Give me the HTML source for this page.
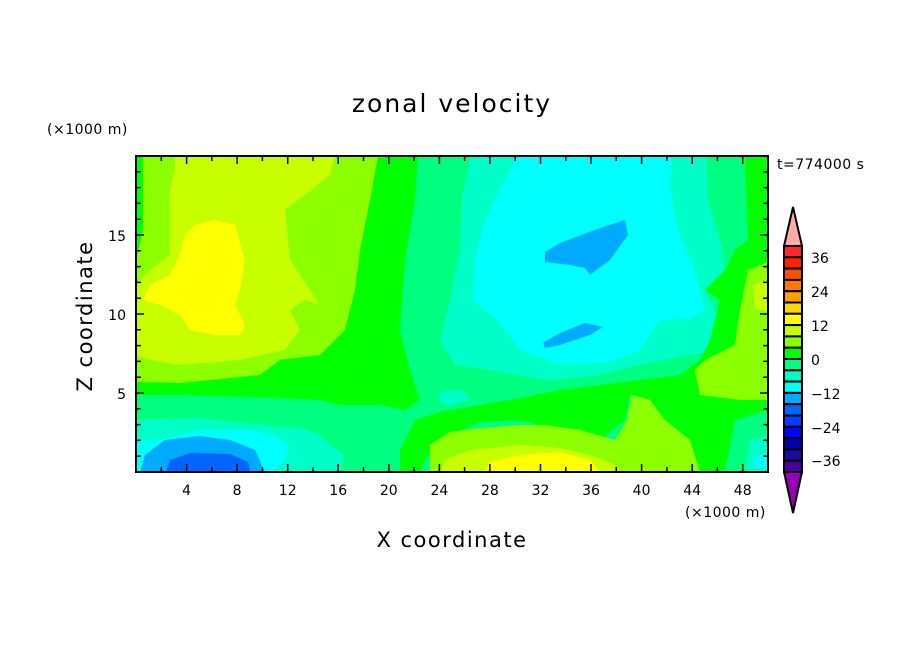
<!DOCTYPE html>
<html><head><meta charset="utf-8"><style>
body{margin:0;background:#fff;}
svg text{font-family:"DejaVu Sans","Liberation Sans",sans-serif;fill:#000;}
</style></head><body>
<svg width="904" height="654" viewBox="0 0 904 654" xmlns="http://www.w3.org/2000/svg">
<rect width="904" height="654" fill="#fff"/>
<clipPath id="c"><rect x="136" y="156" width="632" height="316"/></clipPath>
<g clip-path="url(#c)">
<rect x="136" y="156" width="632" height="316" fill="#00ff80"/>
<polygon fill="#00ff00" points="378,156 418,156 415,200 405,260 400,330 410,370 420,400 405,410 380,405 340,405 320,400 250,397 180,395 136,395 136,156"/>
<polygon fill="#8cff00" points="143,156 378,156 370,200 360,250 355,290 345,330 320,355 280,360 260,375 180,383 136,382 136,260 143,230"/>
<polygon fill="#c8ff00" points="175,156 335,156 330,175 305,195 285,210 290,260 310,290 320,305 305,300 290,310 300,330 285,350 240,360 180,365 150,360 136,355 136,285 150,270 170,255 170,190 175,170"/>
<polygon fill="#ffff00" points="195,225 215,220 235,225 245,260 240,290 235,305 245,325 240,335 215,335 190,330 180,315 160,305 143,300 150,285 170,275 180,255 185,235"/>
<polygon fill="#00ffc8" points="136,420 200,418 260,425 300,428 320,435 330,445 345,455 340,472 136,472"/>
<polygon fill="#00ffff" points="136,440 160,440 200,430 250,430 275,436 290,446 285,460 272,472 136,472"/>
<polygon fill="#00aaff" points="145,455 165,440 200,436 230,440 255,450 265,472 140,472"/>
<polygon fill="#0064ff" points="170,460 190,453 230,454 248,462 250,472 166,472"/>
<polygon fill="#00ffc8" points="470,156 707,156 708,200 720,240 725,270 705,290 720,320 735,330 725,350 690,355 650,362 600,375 550,380 520,375 480,368 455,365 440,340 450,300 460,250 462,200"/>
<polygon fill="#00ffff" points="517,156 672,156 670,190 678,230 695,270 705,310 690,318 660,320 640,350 610,362 560,365 520,350 510,335 495,318 473,300 475,260 485,220 500,190 510,170"/>
<polygon fill="#00aaff" points="545,252 560,243 600,228 625,220 628,235 610,260 590,275 585,268 570,265 545,262"/>
<polygon fill="#00aaff" points="543,343 560,333 585,323 603,327 590,335 560,345 545,348"/>
<polygon fill="#00ffc8" points="440,392 462,390 470,400 450,405 440,402"/>
<polygon fill="#00ff00" points="415,420 440,412 480,405 520,398 560,390 600,385 640,380 680,375 700,360 710,340 720,300 705,290 725,270 735,250 748,240 745,156 768,156 768,440 760,455 745,472 690,472 685,440 660,420 650,400 630,395 625,420 600,440 560,430 520,420 480,422 440,440 425,460 420,472 400,472 400,450"/>
<polygon fill="#8cff00" points="430,445 450,432 480,428 520,425 545,425 580,430 615,440 627,420 632,395 650,400 665,420 690,440 700,472 430,472"/>
<polygon fill="#8cff00" points="748,270 768,262 768,400 740,400 700,395 695,370 705,360 735,345 740,310"/>
<polygon fill="#c8ff00" points="753,285 768,280 768,312 755,308"/>
<polygon fill="#c8ff00" points="445,460 470,450 520,445 560,448 590,455 615,465 620,472 440,472"/>
<polygon fill="#ffff00" points="490,462 520,455 560,452 590,460 600,472 485,472"/>
<polygon fill="#00ff80" points="735,420 768,410 768,472 725,472"/>
<polygon fill="#00ffc8" points="750,440 768,436 768,472 745,472"/>
<polygon fill="#00ffff" points="753,458 768,452 768,468 756,468"/>
</g>
<rect x="136" y="156" width="632" height="316" fill="none" stroke="#000" stroke-width="2"/>
<g stroke="#000" stroke-width="1.5">
<path d="M161.3,472v-5M186.6,472v-8M211.8,472v-5M237.1,472v-8M262.4,472v-5M287.7,472v-8M313,472v-5M338.2,472v-8M363.5,472v-5M388.8,472v-8M414.1,472v-5M439.4,472v-8M464.6,472v-5M489.9,472v-8M515.2,472v-5M540.5,472v-8M565.8,472v-5M591,472v-8M616.3,472v-5M641.6,472v-8M666.9,472v-5M692.2,472v-8M717.4,472v-5M742.7,472v-8"/>
<path d="M161.3,156v5M186.6,156v8M211.8,156v5M237.1,156v8M262.4,156v5M287.7,156v8M313,156v5M338.2,156v8M363.5,156v5M388.8,156v8M414.1,156v5M439.4,156v8M464.6,156v5M489.9,156v8M515.2,156v5M540.5,156v8M565.8,156v5M591,156v8M616.3,156v5M641.6,156v8M666.9,156v5M692.2,156v8M717.4,156v5M742.7,156v8"/>
<path d="M136,456.2h5M136,440.4h5M136,424.6h5M136,408.8h5M136,393h8M136,377.2h5M136,361.4h5M136,345.6h5M136,329.8h5M136,314h8M136,298.2h5M136,282.4h5M136,266.6h5M136,250.8h5M136,235h8M136,219.2h5M136,203.4h5M136,187.6h5M136,171.8h5"/>
<path d="M768,456.2h-5M768,440.4h-5M768,424.6h-5M768,408.8h-5M768,393h-8M768,377.2h-5M768,361.4h-5M768,345.6h-5M768,329.8h-5M768,314h-8M768,298.2h-5M768,282.4h-5M768,266.6h-5M768,250.8h-5M768,235h-8M768,219.2h-5M768,203.4h-5M768,187.6h-5M768,171.8h-5"/>
</g>
<g font-size="14" text-anchor="middle">
<text x="186.6" y="495">4</text><text x="237.1" y="495">8</text><text x="287.7" y="495">12</text><text x="338.2" y="495">16</text><text x="388.8" y="495">20</text><text x="439.4" y="495">24</text><text x="489.9" y="495">28</text><text x="540.5" y="495">32</text><text x="591" y="495">36</text><text x="641.6" y="495">40</text><text x="692.2" y="495">44</text><text x="742.7" y="495">48</text>
</g>
<g font-size="14" text-anchor="end">
<text x="126" y="241">15</text><text x="126" y="320">10</text><text x="126" y="399">5</text>
</g>
<text x="452" y="112" font-size="25" letter-spacing="2" text-anchor="middle">zonal velocity</text>
<text x="47" y="134" font-size="14" letter-spacing="0.5">(×1000 m)</text>
<text x="685" y="517" font-size="14" letter-spacing="0.5">(×1000 m)</text>
<text x="777" y="169" font-size="14" letter-spacing="0.5">t=774000 s</text>
<text x="452" y="547" font-size="21" letter-spacing="1.5" text-anchor="middle">X coordinate</text>
<text transform="translate(92,316) rotate(-90)" font-size="21" letter-spacing="1.5" text-anchor="middle">Z coordinate</text>
<g stroke="#000" stroke-width="2">
<polygon points="793,207 784,246 802,246" fill="#ffaaaa"/>
<polygon points="793,513 784,472 802,472" fill="#9600b4"/>
<rect x="784" y="246" width="18" height="11.3" fill="#ff2828"/>
<rect x="784" y="257.3" width="18" height="11.3" fill="#ff2000"/>
<rect x="784" y="268.6" width="18" height="11.3" fill="#ff5000"/>
<rect x="784" y="279.9" width="18" height="11.3" fill="#ff7800"/>
<rect x="784" y="291.2" width="18" height="11.3" fill="#ffa000"/>
<rect x="784" y="302.5" width="18" height="11.3" fill="#ffd700"/>
<rect x="784" y="313.8" width="18" height="11.3" fill="#ffff00"/>
<rect x="784" y="325.1" width="18" height="11.3" fill="#c8ff00"/>
<rect x="784" y="336.4" width="18" height="11.3" fill="#8cff00"/>
<rect x="784" y="347.7" width="18" height="11.3" fill="#00ff00"/>
<rect x="784" y="359" width="18" height="11.3" fill="#00ff80"/>
<rect x="784" y="370.3" width="18" height="11.3" fill="#00ffc8"/>
<rect x="784" y="381.6" width="18" height="11.3" fill="#00ffff"/>
<rect x="784" y="392.9" width="18" height="11.3" fill="#00aaff"/>
<rect x="784" y="404.2" width="18" height="11.3" fill="#0064ff"/>
<rect x="784" y="415.5" width="18" height="11.3" fill="#0040ff"/>
<rect x="784" y="426.8" width="18" height="11.3" fill="#0000ff"/>
<rect x="784" y="438.1" width="18" height="11.3" fill="#0000b0"/>
<rect x="784" y="449.4" width="18" height="11.3" fill="#1a0aa0"/>
<rect x="784" y="460.7" width="18" height="11.3" fill="#4b00a0"/>
</g>
<g font-size="14">
<text x="811" y="263">36</text><text x="811" y="297">24</text><text x="811" y="331">12</text><text x="811" y="365">0</text><text x="811" y="399">−12</text><text x="811" y="433">−24</text><text x="811" y="466">−36</text>
</g>
</svg>
</body></html>
